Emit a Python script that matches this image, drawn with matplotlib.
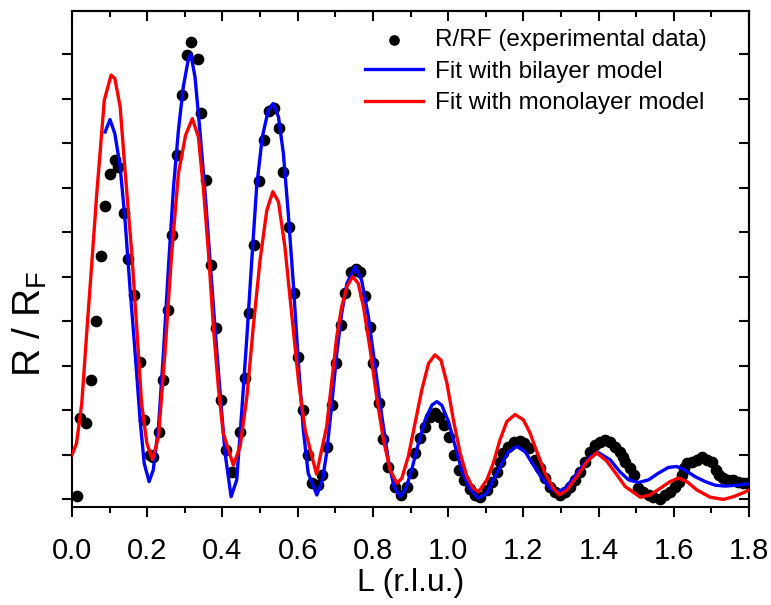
import numpy as np
import matplotlib
matplotlib.use("Agg")
import matplotlib.pyplot as plt

# experimental R/RF points
L_exp = [0.012, 0.021, 0.037, 0.050, 0.063, 0.076, 0.088, 0.101, 0.113, 0.123,
         0.137, 0.150, 0.165, 0.181, 0.192, 0.207, 0.215, 0.230, 0.243, 0.254,
         0.265, 0.278, 0.292, 0.305, 0.317, 0.334, 0.343, 0.356, 0.370, 0.382,
         0.395, 0.409, 0.425, 0.447, 0.460, 0.471, 0.485, 0.497, 0.511, 0.524,
         0.537, 0.551, 0.562, 0.578, 0.589, 0.602, 0.613, 0.627, 0.637, 0.653,
         0.664, 0.677, 0.691, 0.702, 0.715, 0.726, 0.741, 0.755, 0.766, 0.779,
         0.793, 0.801, 0.817, 0.828, 0.841, 0.859, 0.874, 0.890, 0.903, 0.912,
         0.926, 0.939, 0.952, 0.965, 0.977, 0.989, 1.003, 1.016, 1.030, 1.043,
         1.057, 1.072, 1.085, 1.103, 1.116, 1.130, 1.138, 1.147, 1.160, 1.174,
         1.190, 1.202, 1.216, 1.231, 1.245, 1.258, 1.271, 1.285, 1.298, 1.311,
         1.324, 1.338, 1.351, 1.364, 1.378, 1.391, 1.404, 1.418, 1.431, 1.444,
         1.456, 1.466, 1.471, 1.484, 1.493, 1.506, 1.519, 1.533, 1.546, 1.564,
         1.577, 1.590, 1.604, 1.615, 1.622, 1.626, 1.635, 1.648, 1.662, 1.675,
         1.688, 1.701, 1.713, 1.719, 1.732, 1.745, 1.758, 1.772, 1.785, 1.796]
R_exp = [0.07, 1.82, 1.71, 2.67, 4.00, 5.46, 6.59, 7.30, 7.62, 7.47,
         6.42, 5.39, 4.58, 3.09, 1.78, 0.99, 0.95, 1.51, 2.67, 4.25,
         5.93, 7.73, 9.08, 9.98, 10.27, 9.88, 8.68, 7.17, 5.26, 3.84,
         2.22, 1.10, 0.61, 1.51, 2.73, 4.19, 5.71, 7.15, 8.08, 8.73,
         8.78, 8.35, 7.36, 6.12, 4.64, 3.20, 2.00, 0.99, 0.35, 0.31,
         0.54, 1.18, 2.11, 3.05, 3.91, 4.64, 5.11, 5.16, 5.11, 4.56,
         3.86, 3.05, 2.15, 1.34, 0.73, 0.28, 0.09, 0.28, 0.58, 1.03,
         1.36, 1.62, 1.85, 1.94, 1.85, 1.66, 1.40, 0.99, 0.65, 0.43,
         0.22, 0.09, 0.05, 0.20, 0.39, 0.61, 0.84, 1.03, 1.18, 1.27,
         1.30, 1.25, 1.14, 0.88, 0.69, 0.47, 0.28, 0.16, 0.09, 0.16,
         0.28, 0.43, 0.61, 0.84, 1.06, 1.21, 1.29, 1.33, 1.27, 1.16,
         1.05, 0.95, 0.84, 0.69, 0.54, 0.24, 0.16, 0.09, 0.04, 0.01,
         0.09, 0.16, 0.28, 0.39, 0.54, 0.69, 0.80, 0.84, 0.88, 0.95,
         0.88, 0.84, 0.65, 0.54, 0.47, 0.43, 0.43, 0.39, 0.37, 0.35]

# bilayer model fit
L_bi = [0.088, 0.101, 0.114, 0.128, 0.141, 0.154, 0.168, 0.181, 0.192, 0.205,
        0.216, 0.230, 0.243, 0.256, 0.270, 0.283, 0.296, 0.309, 0.316, 0.327,
        0.340, 0.354, 0.367, 0.380, 0.394, 0.407, 0.423, 0.438, 0.451, 0.465,
        0.478, 0.491, 0.506, 0.522, 0.535, 0.549, 0.562, 0.575, 0.589, 0.602,
        0.615, 0.628, 0.651, 0.666, 0.677, 0.691, 0.704, 0.717, 0.731, 0.753,
        0.770, 0.788, 0.806, 0.824, 0.841, 0.856, 0.872, 0.888, 0.903, 0.921,
        0.939, 0.957, 0.970, 0.983, 1.001, 1.019, 1.036, 1.054, 1.072, 1.081,
        1.103, 1.120, 1.143, 1.160, 1.183, 1.205, 1.227, 1.249, 1.271, 1.291,
        1.311, 1.333, 1.356, 1.378, 1.400, 1.431, 1.457, 1.480, 1.506, 1.533,
        1.559, 1.586, 1.608, 1.630, 1.657, 1.684, 1.710, 1.737, 1.768, 1.800]
R_bi = [8.25, 8.53, 8.21, 7.47, 6.27, 4.77, 3.27, 1.78, 0.80, 0.39,
        0.65, 1.62, 3.27, 5.15, 7.02, 8.29, 9.27, 9.87, 10.00, 9.49,
        8.29, 6.87, 5.37, 3.87, 2.37, 1.03, 0.05, 0.43, 1.93, 3.65,
        5.37, 7.02, 8.14, 8.74, 8.89, 8.59, 7.77, 6.42, 4.77, 3.05,
        1.55, 0.58, 0.09, 0.43, 1.03, 2.15, 3.27, 4.17, 4.85, 5.22,
        4.92, 4.10, 2.97, 1.85, 0.88, 0.28, 0.05, 0.24, 0.65, 1.25,
        1.78, 2.11, 2.19, 2.11, 1.74, 1.18, 0.65, 0.28, 0.09, 0.02,
        0.13, 0.43, 0.80, 1.06, 1.18, 1.06, 0.76, 0.47, 0.24, 0.16,
        0.24, 0.47, 0.73, 0.95, 1.04, 0.88, 0.61, 0.43, 0.37, 0.43,
        0.58, 0.71, 0.73, 0.65, 0.50, 0.39, 0.31, 0.29, 0.31, 0.34]

# monolayer model fit
L_mono = [0.000, 0.012, 0.026, 0.039, 0.052, 0.066, 0.086, 0.104, 0.114, 0.128,
          0.141, 0.159, 0.172, 0.185, 0.199, 0.214, 0.230, 0.247, 0.265, 0.283,
          0.302, 0.320, 0.336, 0.349, 0.363, 0.376, 0.389, 0.402, 0.429, 0.447,
          0.465, 0.482, 0.500, 0.518, 0.534, 0.549, 0.566, 0.584, 0.602, 0.620,
          0.650, 0.677, 0.691, 0.704, 0.717, 0.731, 0.746, 0.761, 0.775, 0.793,
          0.810, 0.828, 0.846, 0.864, 0.877, 0.894, 0.912, 0.930, 0.948, 0.965,
          0.981, 0.997, 1.014, 1.032, 1.050, 1.067, 1.081, 1.103, 1.120, 1.138,
          1.156, 1.178, 1.200, 1.218, 1.236, 1.258, 1.280, 1.296, 1.316, 1.342,
          1.369, 1.395, 1.422, 1.449, 1.471, 1.511, 1.537, 1.564, 1.590, 1.612,
          1.635, 1.662, 1.697, 1.732, 1.758, 1.785, 1.800]
R_mono = [0.99, 1.25, 2.15, 3.72, 5.22, 6.88, 8.97, 9.53, 9.45, 8.82,
          7.39, 5.52, 3.87, 2.15, 1.25, 0.89, 1.40, 3.27, 5.52, 7.32,
          8.18, 8.55, 8.14, 7.02, 5.52, 3.87, 2.52, 1.48, 0.76, 1.18,
          2.30, 3.87, 5.37, 6.49, 6.91, 6.68, 5.67, 4.17, 2.67, 1.55,
          0.56, 1.62, 2.67, 3.65, 4.32, 4.77, 5.00, 4.85, 4.32, 3.35,
          2.30, 1.33, 0.65, 0.35, 0.47, 0.95, 1.70, 2.45, 3.05, 3.24,
          3.12, 2.60, 1.78, 1.03, 0.50, 0.24, 0.16, 0.43, 0.80, 1.33,
          1.74, 1.90, 1.78, 1.48, 1.06, 0.58, 0.24, 0.09, 0.20, 0.50,
          0.84, 1.04, 0.85, 0.54, 0.28, 0.04, 0.09, 0.24, 0.39, 0.47,
          0.39, 0.20, 0.04, -0.01, 0.05, 0.14, 0.20]

x_ticks = [0.0, 0.2, 0.4, 0.6, 0.8, 1.0, 1.2, 1.4, 1.6, 1.8]
x_minor = [0.1, 0.3, 0.5, 0.7, 0.9, 1.1, 1.3, 1.5, 1.7]
y_ticks = list(range(0, 11))

plt.rcParams['font.family'] = ['Liberation Sans', 'DejaVu Sans']

fig = plt.figure(figsize=(7.71, 6.05), dpi=100)
ax = fig.add_axes([72 / 771, 1 - 507 / 605, (749 - 72) / 771, (507 - 11) / 605])

ax.scatter(L_exp, R_exp, s=55, color='black', zorder=2,
           label='R/RF (experimental data)')
ax.plot(L_bi, R_bi, color='#0000ff', lw=2.4, zorder=3,
        label='Fit with bilayer model')
ax.plot(L_mono, R_mono, color='#ff0000', lw=2.4, zorder=4,
        label='Fit with monolayer model')

ax.set_xlim(0, 1.8)
ax.set_ylim(-0.18, 10.97)
ax.set_xticks(x_ticks)
ax.set_xticks(x_minor, minor=True)
ax.set_xticklabels(['%.1f' % v for v in x_ticks], fontsize=21)
ax.set_yticks(y_ticks)
ax.set_yticklabels([])

for s in ax.spines.values():
    s.set_linewidth(1.5)
ax.tick_params(axis='both', which='major', direction='out', length=7.5, width=1.5)
ax.tick_params(axis='x', which='major', pad=14)
ax.tick_params(axis='x', which='minor', direction='out', length=4, width=1.5)

# mirrored ticks on top and right, pointing inward
top = ax.secondary_xaxis('top')
top.set_xticks(x_ticks)
top.set_xticks(x_minor, minor=True)
top.tick_params(which='major', direction='in', length=7.5, width=1.5, labeltop=False)
top.tick_params(which='minor', direction='in', length=4, width=1.5)
top.spines['top'].set_linewidth(1.5)
right = ax.secondary_yaxis('right')
right.set_yticks(y_ticks)
right.tick_params(direction='in', length=7.5, width=1.5, labelright=False)
right.spines['right'].set_linewidth(1.5)

ax.set_xlabel('L (r.l.u.)', fontsize=23, labelpad=2)
ax.set_ylabel('R / R$_\\mathregular{F}$', fontsize=28)
ax.yaxis.set_label_coords(-0.034, 0.37)

ax.legend(loc='upper left', bbox_to_anchor=(365 / 771, 1 - 29 / 605),
          bbox_transform=fig.transFigure, frameon=False, fontsize=17.5,
          handlelength=2.4, handletextpad=0.5, labelspacing=0.4,
          borderpad=0, borderaxespad=0, markerscale=0.9)

fig.savefig('out.png', dpi=100)
